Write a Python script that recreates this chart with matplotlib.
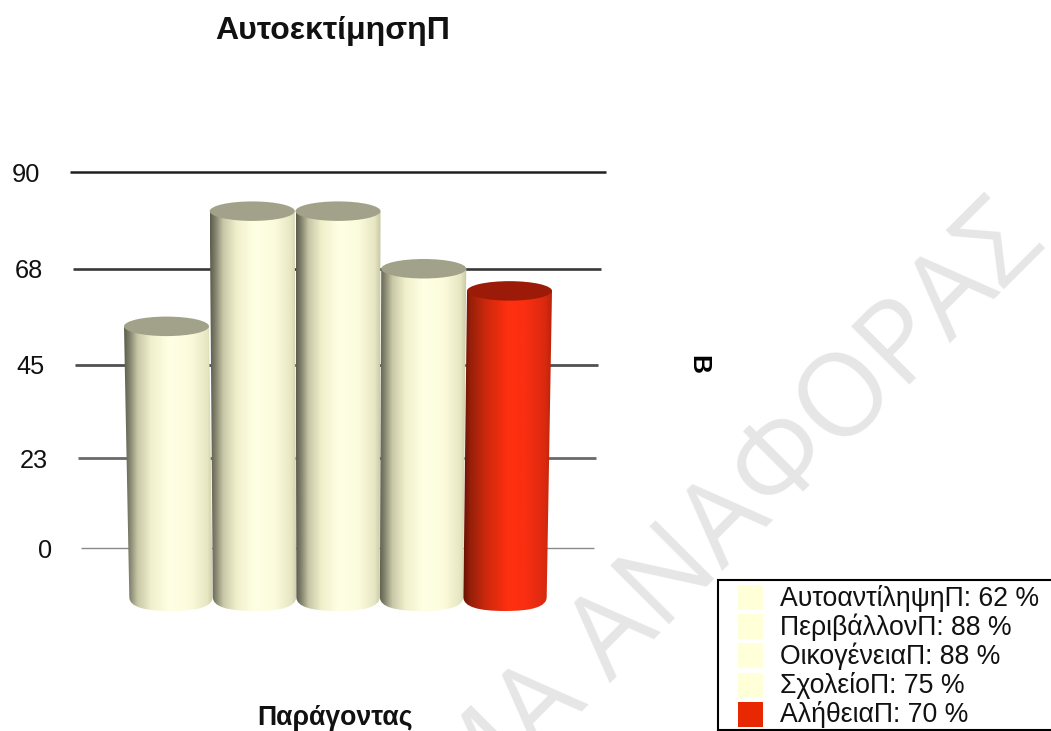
import numpy as np
import matplotlib
matplotlib.use("Agg")
import matplotlib.pyplot as plt
from matplotlib.colors import LinearSegmentedColormap
from matplotlib.patches import Ellipse, PathPatch, Rectangle
from matplotlib.path import Path

categories = ["ΑυτοαντίληψηΠ", "ΠεριβάλλονΠ", "ΟικογένειαΠ", "ΣχολείοΠ", "ΑλήθειαΠ"]
values = [62, 88, 88, 75, 70]
y_ticks = [0, 23, 45, 68, 90]
title = "ΑυτοεκτίμησηΠ"
x_label = "Παράγοντας"
y_label = "Β"
watermark = "ΔΕΙΓΜΑ ΑΝΑΦΟΡΑΣ"

W, H = 1051, 731
plt.rcParams["font.family"] = ["Liberation Sans", "DejaVu Sans"]
fig = plt.figure(figsize=(W / 100, H / 100), dpi=100, facecolor="white")


def box(x0, y0, x1, y1):
    return [x0 / W, 1 - y1 / H, (x1 - x0) / W, (y1 - y0) / H]


# watermark
fig.text(1048 / W, 1 - 246 / H, watermark, fontsize=82.5, color="#e6e6e6", rotation=45,
         rotation_mode="anchor", ha="right", va="baseline", family="Open Sans", zorder=0)

# back wall with perspective-compressed scale
wall = fig.add_axes(box(70, 172, 606, 548), facecolor="none")
wall_px = [0, 90, 183, 279, 376]
wall.set_yscale("function", functions=(lambda v: np.interp(v, y_ticks, wall_px),
                                       lambda p: np.interp(p, wall_px, y_ticks)))
wall.set_ylim(0, 90)
wall.set_xlim(70, 606)
for s in wall.spines.values():
    s.set_visible(False)
wall.set_xticks([])
wall.set_yticks(y_ticks, [str(t) for t in y_ticks])
wall.tick_params(axis="y", length=0, labelsize=18.3, labelcolor="#111111")
tick_pads = [13, 15.8, 18, 19.4, 21.6]
for tk, p in zip(wall.yaxis.get_major_ticks(), tick_pads):
    tk.set_pad(p)
wall_spans = [(81, 594), (78, 596), (75, 598), (73, 601), (70, 606)]
wall_cols = ["#8a8a8a", "#6a6a6a", "#505050", "#383838", "#202020"]
wall_lw = [1.0, 2.0, 2.0, 1.9, 1.8]
for t, (a, b), c, lw in zip(y_ticks, wall_spans, wall_cols, wall_lw):
    wall.plot([a, b], [t, t], color=c, lw=lw, clip_on=False, solid_capstyle="butt")

# cylinders
ax = fig.add_axes([0, 0, 1, 1], facecolor="none")
STEP, X0, PX_PER_V, BASE = 85.75, 166.5, 4.43, 601
ax.axis("off")

cream = LinearSegmentedColormap.from_list("c", [(0, "#5e5e4e"), (.05, "#7c7c68"), (.15, "#c8c8a8"),
                                                (.3, "#f0f0cc"), (.5, "#ffffe4"), (.75, "#fbfbdc"),
                                                (.93, "#e6e6c2"), (1, "#c8c8a6")])
red = LinearSegmentedColormap.from_list("r", [(0, "#661000"), (.08, "#96200a"), (.25, "#cc280c"),
                                              (.5, "#ff3010"), (.7, "#fa2e10"), (.92, "#d82a10"), (1, "#b82208")])
grad = np.linspace(0, 1, 128)[None, :]
half_top = 42.5 / STEP
vanish = (338 - X0) / STEP
taper = 0.98
ell_h_top = 19.5 / PX_PER_V
side_end = 4 / PX_PER_V
base_depth = 10 / PX_PER_V

for i, (v, cat) in enumerate(zip(values, categories)):
    is_red = i == len(values) - 1
    cmap = red if is_red else cream
    top_col = "#9c1a08" if is_red else "#a2a28a"
    # the base leans towards the vanishing centre, narrower than the top
    cb = vanish + (i - vanish) * 0.974
    hb = half_top * taper
    k = 0.62
    verts = [(i - half_top, v), (cb - hb, side_end),
             (cb - hb, -base_depth * k), (cb - hb * k, -base_depth), (cb, -base_depth),
             (cb + hb * k, -base_depth), (cb + hb, -base_depth * k), (cb + hb, side_end),
             (i + half_top, v), (i - half_top, v)]
    codes = [Path.MOVETO, Path.LINETO, Path.CURVE4, Path.CURVE4, Path.CURVE4,
             Path.CURVE4, Path.CURVE4, Path.CURVE4, Path.LINETO, Path.CLOSEPOLY]
    clip = PathPatch(Path(verts, codes), transform=ax.transData, fc="none", ec="none")
    ax.add_patch(clip)
    im = ax.imshow(grad, cmap=cmap, aspect="auto", interpolation="bilinear",
                   extent=[min(i, cb) - half_top, max(i, cb) + half_top, -base_depth, v],
                   zorder=3 + i)
    im.set_clip_path(clip)
    ax.add_patch(Ellipse((i, v), 2 * half_top, ell_h_top, fc=top_col, ec="none", zorder=3 + i))
ax.set_xlim(-X0 / STEP, (W - X0) / STEP)
ax.set_ylim((BASE - H) / PX_PER_V, BASE / PX_PER_V)

# texts
fig.text(333 / W, 1 - 31 / H, title, fontsize=23, fontweight="bold", ha="center", va="center", color="#111111")
fig.text(335 / W, 1 - 725 / H, x_label, fontsize=19.2, fontweight="bold", ha="center", va="baseline", color="#111111")
fig.text(698 / W, 1 - 364 / H, y_label, fontsize=19, fontweight="bold", rotation=-90, ha="center", va="center", color="black")

# legend
leg = fig.add_axes([0, 0, 1, 1], facecolor="none")
leg.set_xlim(0, W)
leg.set_ylim(H, 0)
leg.axis("off")
leg.add_patch(Rectangle((718, 580), 340, 150, fc="white", ec="black", lw=1.5, zorder=1))
for i, (c, v) in enumerate(zip(categories, values)):
    col = "#e82800" if i == len(values) - 1 else "#ffffd8"
    yc = 597.5 + i * 29.2
    leg.add_patch(Rectangle((738, yc - 12.5), 25, 25, fc=col, ec="none", zorder=2))
    leg.text(780, yc + 0.5, f"{c}: {v} %", fontsize=19.2, va="center", ha="left", color="#111111", zorder=3)

fig.savefig("out.png", dpi=100)
